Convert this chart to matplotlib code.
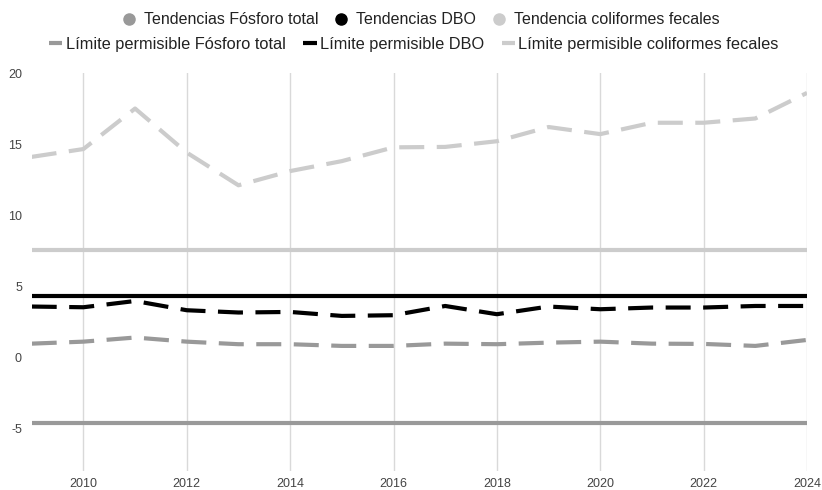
import matplotlib
matplotlib.use("Agg")
import matplotlib.pyplot as plt
from matplotlib.lines import Line2D

plt.rcParams['font.family'] = ['Liberation Sans', 'DejaVu Sans']

years = list(range(2009, 2025))

# Yearly series (dashed)
fosforo = [0.96, 1.10, 1.39, 1.10, 0.92, 0.92, 0.80, 0.80, 0.96, 0.92, 1.03, 1.10, 0.96, 0.94, 0.80, 1.22]
dbo = [3.57, 3.52, 3.96, 3.31, 3.15, 3.19, 2.91, 2.96, 3.61, 3.03, 3.57, 3.38, 3.50, 3.50, 3.61, 3.61]
coliformes = [14.1, 14.65, 17.5, 14.4, 12.1, 13.1, 13.8, 14.77, 14.8, 15.2, 16.2, 15.7, 16.5, 16.5, 16.8, 18.6]

# Constant reference levels (solid)
nivel_fosforo = -4.6
nivel_dbo = 4.32
nivel_coliformes = 7.56

labels_top = ["Tendencias Fósforo total", "Tendencias DBO", "Tendencia coliformes fecales"]
labels_bottom = ["Límite permisible Fósforo total", "Límite permisible DBO",
                 "Límite permisible coliformes fecales"]

y_ticks = [-5, 0, 5, 10, 15, 20]
x_ticks = [2010, 2012, 2014, 2016, 2018, 2020, 2022, 2024]

c_mid = "#999999"
c_dark = "#000000"
c_light = "#cccccc"
colors = [c_mid, c_dark, c_light]

fig = plt.figure(figsize=(8.22, 4.90), dpi=100)
ax = fig.add_axes([31.7 / 822, 1 - 471 / 490, (807 - 31.7) / 822, (471 - 73) / 490])

lw = 3.0
for level, col in zip([nivel_fosforo, nivel_dbo, nivel_coliformes], colors):
    ax.plot([years[0], years[-1]], [level, level], color=col, lw=lw,
            solid_capstyle='butt', zorder=3)

for series, col in zip([fosforo, dbo, coliformes], colors):
    ax.plot(years, series, color=col, lw=lw, dashes=(6, 3),
            dash_capstyle='butt', zorder=4)

ax.set_xlim(2009, 2024)
ax.set_ylim(-8, 20)
ax.set_xticks(x_ticks)
ax.set_xticklabels([str(t) for t in x_ticks])
ax.set_yticks(y_ticks)
ax.set_yticklabels([str(t) for t in y_ticks])
ax.grid(axis='x', color="#d9d9d9", lw=1.0, zorder=0)
ax.grid(axis='y', visible=False)
for s in ax.spines.values():
    s.set_visible(False)
ax.tick_params(axis='both', length=0, labelsize=9, labelcolor="#444444")
ax.tick_params(axis='y', pad=7)
ax.tick_params(axis='x', pad=5)

handles_top = [Line2D([], [], marker='o', ls='none', color=c, markersize=8) for c in colors]
handles_bottom = [Line2D([], [], color=c, lw=3, solid_capstyle='butt') for c in colors]

fig.legend(handles_top, labels_top, loc='center', bbox_to_anchor=(421.5 / 822, 1 - 20 / 490),
           ncol=3, frameon=False, fontsize=11.5, handlelength=0.7, handletextpad=0.59,
           columnspacing=1.05, labelcolor="#222222", borderpad=0, borderaxespad=0)
fig.legend(handles_bottom, labels_bottom, loc='center', bbox_to_anchor=(414 / 822, 1 - 44 / 490),
           ncol=3, frameon=False, fontsize=11.8, handlelength=0.8, handletextpad=0.2,
           columnspacing=1.1, labelcolor="#222222", borderpad=0, borderaxespad=0)

fig.savefig("out.png", dpi=100)
